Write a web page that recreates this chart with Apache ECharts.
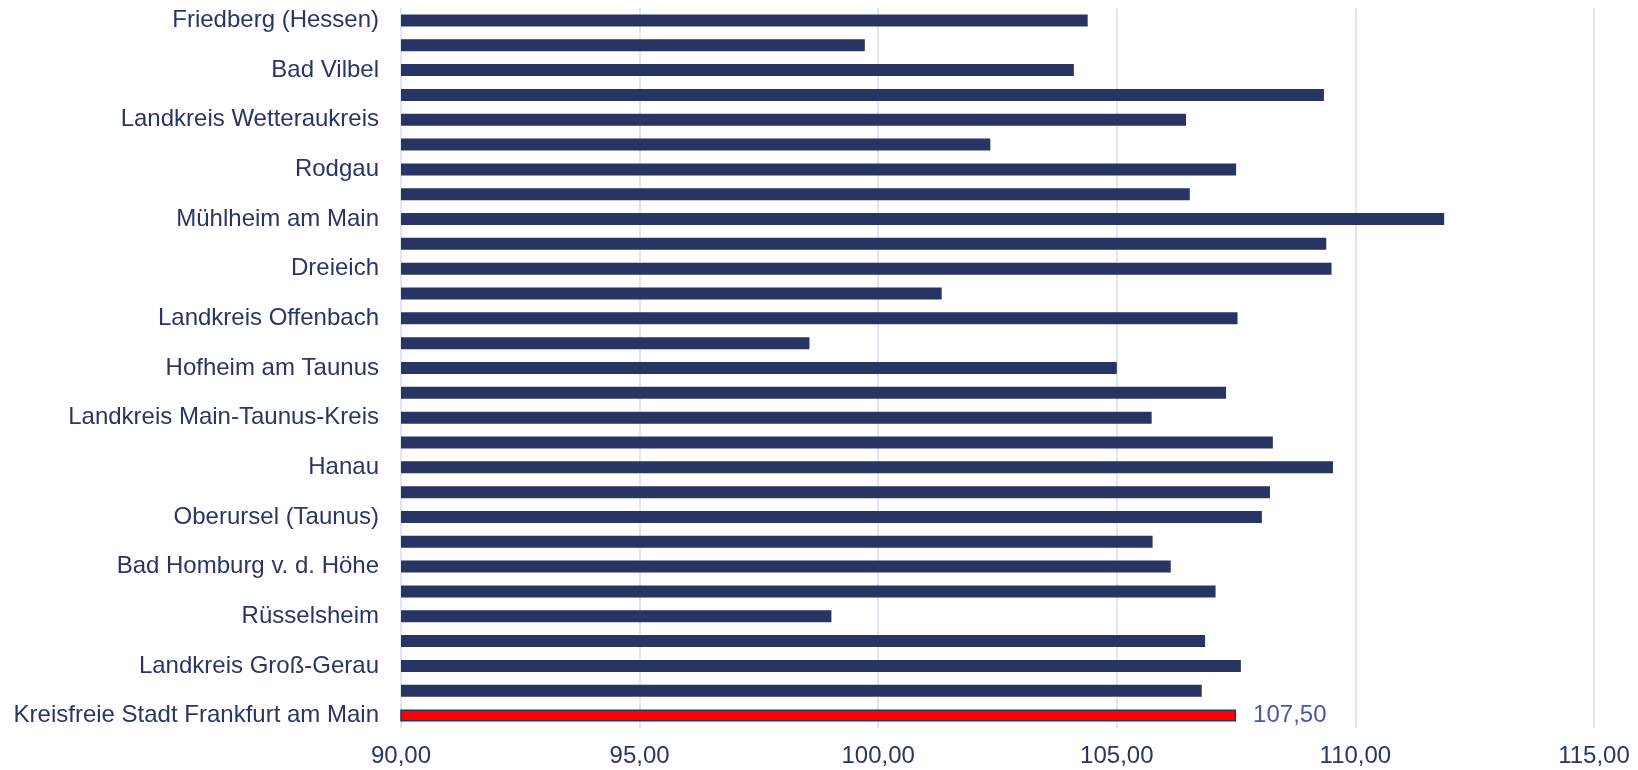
<!DOCTYPE html>
<html>
<head>
<meta charset="utf-8">
<script src="https://cdn.jsdelivr.net/npm/echarts@6/dist/echarts.min.js"></script>
<style>
  html, body { margin: 0; padding: 0; background: #ffffff; }
  #chart { width: 1638px; height: 770px; }
</style>
</head>
<body>
<div id="chart"></div>
<script>
// Regions, listed from the bottom bar upwards
const regions = [
  'Kreisfreie Stadt Frankfurt am Main',
  'Kreisfreie Stadt Offenbach am Main',
  'Landkreis Groß-Gerau',
  'Mörfelden-Walldorf',
  'Rüsselsheim',
  'Landkreis Hochtaunuskreis',
  'Bad Homburg v. d. Höhe',
  'Friedrichsdorf',
  'Oberursel (Taunus)',
  'Landkreis Main-Kinzig-Kreis',
  'Hanau',
  'Maintal',
  'Landkreis Main-Taunus-Kreis',
  'Bad Soden am Taunus',
  'Hofheim am Taunus',
  'Kelkheim (Taunus)',
  'Landkreis Offenbach',
  'Dietzenbach',
  'Dreieich',
  'Langen (Hessen)',
  'Mühlheim am Main',
  'Neu-Isenburg',
  'Rodgau',
  'Seligenstadt',
  'Landkreis Wetteraukreis',
  'Bad Nauheim',
  'Bad Vilbel',
  'Butzbach',
  'Friedberg (Hessen)'
];

// Index values, same order as regions
const indexValues = [
  107.50, 106.78, 107.60, 106.85, 99.02,
  107.07, 106.13, 105.75, 108.04, 108.21,
  109.53, 108.27, 105.73, 107.29, 105.00,
  98.56, 107.53, 101.33, 109.50, 109.39,
  111.86, 106.53, 107.50, 102.35, 106.45,
  109.34, 104.10, 99.72, 104.39
];

// Value axis range and ticks
const axisMin = 90;
const axisMax = 115;
const axisStep = 5;

// Region drawn in red with its value shown
const highlightRegion = 'Kreisfreie Stadt Frankfurt am Main';

const fmt = v => Number(v).toFixed(2).replace('.', ',');
const navy = '#283562';
const textNavy = '#2a3566';
const font = '"Liberation Sans", Arial, sans-serif';

const barData = indexValues.map((v, i) => {
  if (regions[i] === highlightRegion) {
    return {
      value: v,
      itemStyle: { color: '#ff0000', borderColor: navy, borderWidth: 1.5 },
      label: {
        show: true,
        position: 'right',
        distance: 17,
        color: '#4858a8',
        fontSize: 24,
        fontFamily: font,
        formatter: p => fmt(p.value)
      }
    };
  }
  return v;
});

const chart = echarts.init(document.getElementById('chart'), null, { renderer: 'canvas' });
chart.setOption({
  animation: false,
  backgroundColor: '#ffffff',
  grid: { left: 401, right: 44, top: 8, bottom: 42 },
  xAxis: {
    type: 'value',
    min: axisMin,
    max: axisMax,
    interval: axisStep,
    axisLine: { show: false },
    axisTick: { show: false },
    splitLine: { show: true, lineStyle: { color: '#d9dcee', width: 1.5 } },
    axisLabel: {
      color: textNavy,
      fontSize: 24,
      fontFamily: font,
      margin: 16,
      formatter: v => fmt(v)
    }
  },
  yAxis: {
    type: 'category',
    data: regions,
    axisLine: { show: false },
    axisTick: { show: false },
    splitLine: { show: false },
    axisLabel: {
      interval: 1,
      color: textNavy,
      fontSize: 24,
      fontFamily: font,
      margin: 22
    }
  },
  series: [{
    type: 'bar',
    data: barData,
    barWidth: 12,
    itemStyle: { color: navy },
    silent: true
  }]
});
</script>
</body>
</html>
